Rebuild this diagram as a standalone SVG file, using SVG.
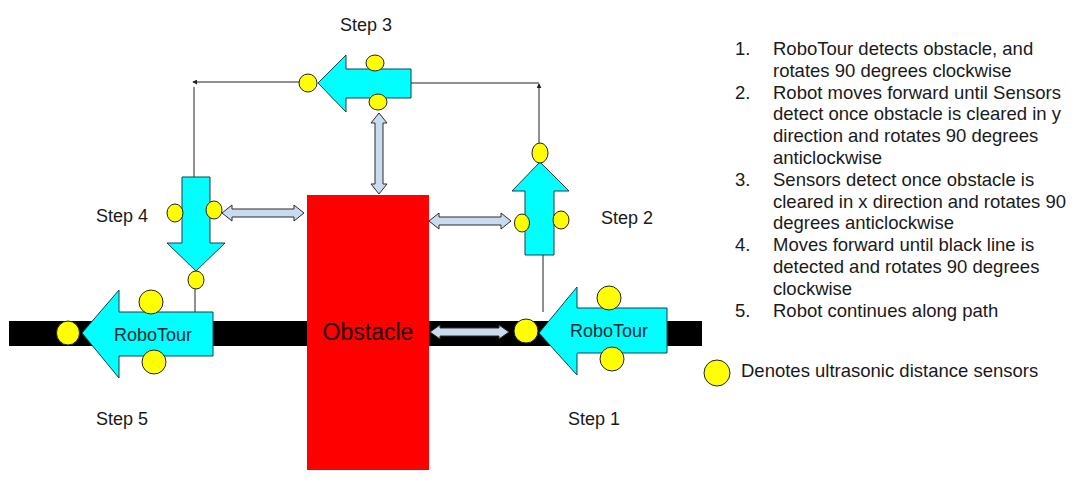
<svg xmlns="http://www.w3.org/2000/svg" width="1081" height="486" viewBox="0 0 1081 486">
<style>
text{font-family:"Liberation Sans",Arial,sans-serif;fill:#1a1a1a}
.robot{fill:#00ffff;stroke:#1d3f48;stroke-width:1}
.sensor{fill:#ffff00;stroke:#222;stroke-width:1}
.dbl{fill:#c9dcef;stroke:#2b2b2b;stroke-width:1}
.conn{fill:none;stroke:#222;stroke-width:1}
.step{font-size:18px}
.list{font-size:18.5px}
.rt{font-size:18px;fill:#0f2a30}
</style>
<defs>
<marker id="ah" viewBox="0 0 6 6" refX="5" refY="3" markerWidth="5" markerHeight="5" orient="auto" markerUnits="userSpaceOnUse">
<path d="M0,0 L6,3 L0,6 Z" fill="#222"/>
</marker>
</defs>
<rect width="1081" height="486" fill="#fff"/>

<g id="track">
<rect x="9" y="321" width="298" height="25" fill="#000"/>
<rect x="429" y="321" width="273" height="25" fill="#000"/>
</g>

<g id="obstacle">
<rect x="307" y="195" width="122" height="275" fill="#ff0000"/>
<text x="368" y="340" text-anchor="middle" style="font-size:23px;fill:#1a0000">Obstacle</text>
</g>

<g id="connectors">
<line class="conn" x1="300" y1="82" x2="193" y2="82" marker-end="url(#ah)"/>
<line class="conn" x1="194" y1="87" x2="194" y2="177"/>
<line class="conn" x1="411" y1="83" x2="539" y2="83"/>
<line class="conn" x1="539" y1="143" x2="539" y2="84" marker-end="url(#ah)"/>
<line class="conn" x1="543" y1="255" x2="543" y2="312"/>
<line class="conn" x1="195" y1="289" x2="195" y2="312"/>
<path class="dbl" d="M222,213 L232,205 L232,209 L294,209 L294,205 L304,213 L294,221 L294,217 L232,217 L232,221 Z"/>
<path class="dbl" d="M429,221 L439,213 L439,217 L501,217 L501,213 L511,221 L501,229 L501,225 L439,225 L439,229 Z"/>
<path class="dbl" d="M430,332 L440,325 L440,328 L499,328 L499,325 L509,332 L499,339 L499,336 L440,336 L440,339 Z"/>
<path class="dbl" d="M379,113 L387,123 L383,123 L383,184 L387,184 L379,194 L371,184 L375,184 L375,123 L371,123 Z"/>
</g>

<g id="step1">
<polygon class="robot" points="539,333 577,287 577,308 667,308 667,353 577,353 577,375"/>
<text class="rt" x="570" y="337">RoboTour</text>
<ellipse class="sensor" cx="526" cy="331" rx="12" ry="12"/>
<ellipse class="sensor" cx="609" cy="298" rx="12" ry="12"/>
<ellipse class="sensor" cx="612" cy="359" rx="12" ry="12"/>
<text class="step" x="568" y="425">Step 1</text>
</g>

<g id="step2">
<polygon class="robot" points="540,162 569,191 554,191 554,255 525,255 525,191 512,191"/>
<ellipse class="sensor" cx="540" cy="153" rx="8" ry="10"/>
<ellipse class="sensor" cx="522" cy="223" rx="7.5" ry="9"/>
<ellipse class="sensor" cx="561" cy="220" rx="8" ry="9"/>
<text class="step" x="601" y="224">Step 2</text>
</g>

<g id="step3">
<polygon class="robot" points="318,83 346,55 346,69 411,69 411,98 346,98 346,112"/>
<ellipse class="sensor" cx="308" cy="83" rx="9" ry="9"/>
<ellipse class="sensor" cx="375" cy="63" rx="9" ry="8"/>
<ellipse class="sensor" cx="378" cy="102" rx="9" ry="8"/>
<text class="step" x="340" y="31">Step 3</text>
</g>

<g id="step4">
<polygon class="robot" points="182,177 210,177 210,243 225,243 196,271 167,243 182,243"/>
<ellipse class="sensor" cx="175" cy="213" rx="8" ry="9"/>
<ellipse class="sensor" cx="214" cy="210" rx="8" ry="9"/>
<ellipse class="sensor" cx="196" cy="280" rx="8" ry="9"/>
<text class="step" x="96" y="222">Step 4</text>
</g>

<g id="step5">
<polygon class="robot" points="82,333 119,290 119,312 213,312 213,356 119,356 119,378"/>
<text class="rt" x="114" y="341">RoboTour</text>
<ellipse class="sensor" cx="68" cy="333" rx="11.5" ry="12"/>
<ellipse class="sensor" cx="151" cy="302" rx="12" ry="12"/>
<ellipse class="sensor" cx="154" cy="362" rx="12" ry="12"/>
<text class="step" x="96" y="425">Step 5</text>
</g>

<g id="steps-list" class="list">
<text class="list" x="735" y="55">1.</text>
<text class="list" x="773" y="55">RoboTour detects obstacle, and</text>
<text class="list" x="773" y="76.8">rotates 90 degrees clockwise</text>
<text class="list" x="735" y="98.6">2.</text>
<text class="list" x="773" y="98.6">Robot moves forward until Sensors</text>
<text class="list" x="773" y="120.4">detect once obstacle is cleared in y</text>
<text class="list" x="773" y="142.2">direction and rotates 90 degrees</text>
<text class="list" x="773" y="164">anticlockwise</text>
<text class="list" x="735" y="185.8">3.</text>
<text class="list" x="773" y="185.8">Sensors detect once obstacle is</text>
<text class="list" x="773" y="207.6">cleared in x direction and rotates 90</text>
<text class="list" x="773" y="229.4">degrees anticlockwise</text>
<text class="list" x="735" y="251.2">4.</text>
<text class="list" x="773" y="251.2">Moves forward until black line is</text>
<text class="list" x="773" y="273">detected and rotates 90 degrees</text>
<text class="list" x="773" y="294.8">clockwise</text>
<text class="list" x="735" y="316.6">5.</text>
<text class="list" x="773" y="316.6">Robot continues along path</text>
</g>

<g id="legend">
<ellipse class="sensor" cx="717" cy="373" rx="13" ry="13"/>
<text class="list" x="741" y="377">Denotes ultrasonic distance sensors</text>
</g>
</svg>
